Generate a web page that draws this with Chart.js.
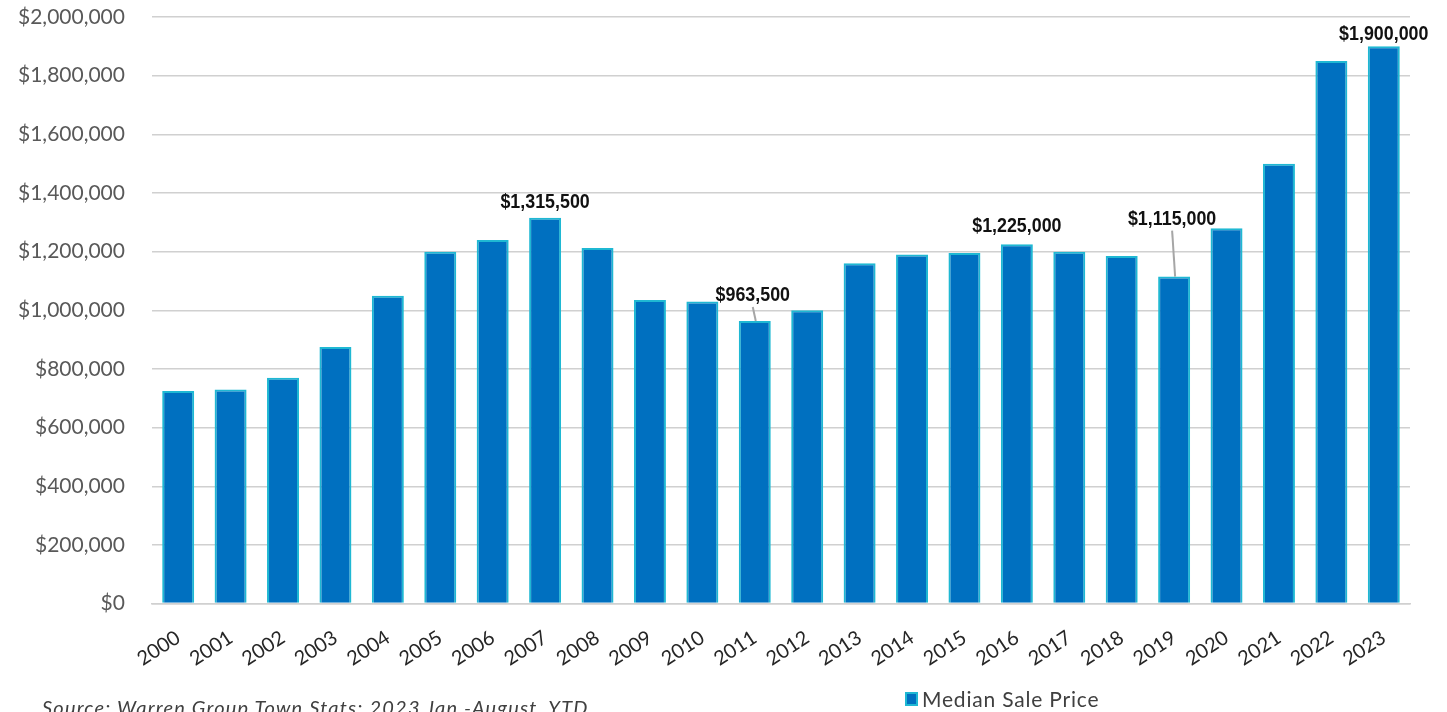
<!DOCTYPE html>
<html>
<head>
<meta charset="utf-8">
<script src="https://cdn.jsdelivr.net/npm/chart.js@4.4.0/dist/chart.umd.min.js"></script>
<style>
  body { margin: 0; background: #ffffff; overflow: hidden; }
  #wrap { position: relative; width: 1447px; height: 712px; }
  #source {
    position: absolute; left: 42px; top: 695px;
    font-family: Lato, sans-serif; font-style: italic; font-size: 20px; letter-spacing: 1.2px; color: #404040;
    white-space: nowrap;
  }
  #legend {
    position: absolute; left: 905px; top: 686px;
    font-family: Lato, sans-serif; font-size: 21px; letter-spacing: 0.8px; color: #404040;
    display: flex; align-items: center; white-space: nowrap;
  }
  #legend .box {
    width: 9px; height: 10px; background: #0070c0; border: 2px solid #1fb8d3;
    margin-right: 4px;
  }
</style>
</head>
<body>
<div id="wrap">
  <canvas id="chart" width="1447" height="712"></canvas>
  <div id="source">Source: Warren Group Town Stats; 2023 Jan -August, YTD</div>
  <div id="legend"><span class="box"></span>Median Sale Price</div>
</div>
<script>
// Median sale price by year
const years = ["2000", "2001", "2002", "2003", "2004", "2005", "2006", "2007", "2008", "2009", "2010", "2011",
  "2012", "2013", "2014", "2015", "2016", "2017", "2018", "2019", "2020", "2021", "2022", "2023"];
const medianPrice = [725000, 730000, 770000, 875000, 1050000, 1200000, 1240000, 1315500, 1212000, 1035000, 1030000, 963500,
  1000000, 1160000, 1190000, 1195000, 1225000, 1200000, 1185000, 1115000, 1280000, 1500000, 1850000, 1900000];
// years that get a value label on top
const labelledYears = ["2007", "2011", "2016", "2019", "2023"];
const yTicks = [0, 200000, 400000, 600000, 800000, 1000000, 1200000, 1400000, 1600000, 1800000, 2000000];

const money = v => "$" + v.toLocaleString("en-US");

// label placement: lift of the baseline above bar top, leader line when lifted far
const labelLift = { "2007": 10, "2011": 20, "2016": 12, "2019": 52, "2023": 6 };
const labelShift = { "2011": -2, "2019": -2 };

const valueLabels = {
  id: "valueLabels",
  afterDatasetsDraw(chart) {
    const ctx = chart.ctx;
    const meta = chart.getDatasetMeta(0);
    const squeeze = 0.85;
    labelledYears.forEach(y => {
      const i = years.indexOf(y);
      const bar = meta.data[i];
      const lift = labelLift[y];
      const lx = bar.x + (labelShift[y] || 0);
      const ly = bar.y - lift;
      ctx.save();
      if (lift > 15) {
        ctx.strokeStyle = "#a6a6a6";
        ctx.lineWidth = 2;
        ctx.beginPath();
        ctx.moveTo(lx, ly + 6);
        ctx.lineTo(bar.x + 1, bar.y);
        ctx.stroke();
      }
      // narrow bold look: squeeze the text horizontally
      ctx.translate(lx, ly);
      ctx.scale(squeeze, 1);
      ctx.font = "bold 21px 'Liberation Sans', Arial, sans-serif";
      ctx.fillStyle = "#111111";
      ctx.textAlign = "center";
      ctx.textBaseline = "alphabetic";
      ctx.fillText(money(medianPrice[i]), 0, 0);
      ctx.restore();
    });
  }
};

new Chart(document.getElementById("chart").getContext("2d"), {
  type: "bar",
  data: {
    labels: years,
    datasets: [{
      label: "Median Sale Price",
      data: medianPrice,
      backgroundColor: "#0070c0",
      borderColor: "#1fb8d3",
      borderWidth: 2,
      categoryPercentage: 0.61,
      barPercentage: 1.0
    }]
  },
  options: {
    responsive: false,
    animation: false,
    layout: { padding: { left: 18, right: 37, top: 17, bottom: 27 } },
    plugins: {
      legend: { display: false },
      tooltip: { enabled: false }
    },
    scales: {
      x: {
        grid: { display: false },
        border: { color: "#d0d0d0", width: 1.5 },
        ticks: {
          color: "#262626",
          font: { family: "Lato, sans-serif", size: 20 },
          minRotation: 33, maxRotation: 33,
          padding: 14
        }
      },
      y: {
        min: 0, max: 2000000,
        afterBuildTicks: axis => { axis.ticks = yTicks.map(v => ({ value: v })); },
        grid: { color: "#d0d0d0", lineWidth: 1.5, drawTicks: true, tickLength: 27, tickColor: "rgba(0,0,0,0)" },
        border: { display: false },
        ticks: {
          color: "#595959",
          font: { family: "Lato, sans-serif", size: 21 },
          padding: 0,
          callback: v => money(v)
        }
      }
    }
  },
  plugins: [valueLabels]
});
</script>
</body>
</html>
